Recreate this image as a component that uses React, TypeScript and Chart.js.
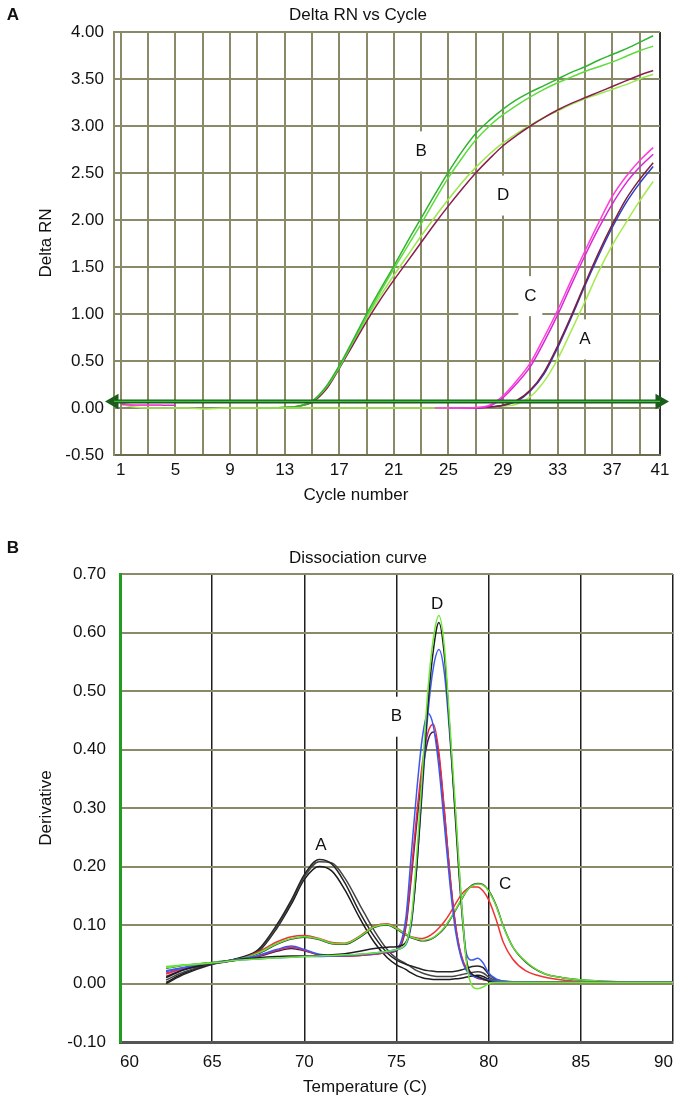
import React, { useEffect, useRef } from 'react';
import { Chart, registerables } from 'chart.js';

Chart.register(...registerables);

const FONT_FAMILY = "'Liberation Sans', Arial, Helvetica, sans-serif";
Chart.defaults.font.family = FONT_FAMILY;
Chart.defaults.color = '#111';

const N = null;
const FS = 17;

// ---------------- Panel A: amplification plot ----------------
const cycles = [1, 2, 3, 4, 5, 6, 7, 8, 9, 10, 11, 12, 13, 14, 15, 16, 17, 18, 19, 20,
  21, 22, 23, 24, 25, 26, 27, 28, 29, 30, 31, 32, 33, 34, 35, 36, 37, 38, 39, 40];
const cycleGridTicks = [1, 3, 5, 7, 9, 11, 13, 15, 17, 19, 21, 23, 25, 27, 29, 31, 33, 35, 37, 39, 40.5];
const cycleTickValues = [1, 5, 9, 13, 17, 21, 25, 29, 33, 37, 40.5];
const cycleTickLabels = ['1', '5', '9', '13', '17', '21', '25', '29', '33', '37', '41'];
const thresholdValue = 0.07;

const ampB1 = [N, N, N, N, N, N, N, N, N, N,
  0.00, 0.00, 0.005, 0.02, 0.07, 0.22, 0.45, 0.72, 1.00, 1.26,
  1.51, 1.77, 2.02, 2.27, 2.51, 2.73, 2.92, 3.06, 3.18, 3.28,
  3.36, 3.43, 3.50, 3.57, 3.63, 3.70, 3.76, 3.82, 3.89, 3.96];
const ampB2 = [N, N, N, N, N, N, N, N, N, N,
  0.00, 0.00, 0.005, 0.02, 0.07, 0.21, 0.43, 0.70, 0.97, 1.23,
  1.48, 1.72, 1.96, 2.21, 2.45, 2.66, 2.85, 3.00, 3.12, 3.22,
  3.31, 3.39, 3.46, 3.52, 3.58, 3.63, 3.68, 3.74, 3.80, 3.85];
const ampD1 = [N, N, N, N, N, N, N, N, N, N,
  0.00, 0.00, 0.005, 0.02, 0.06, 0.19, 0.42, 0.67, 0.92, 1.15,
  1.36, 1.56, 1.76, 1.96, 2.15, 2.33, 2.50, 2.65, 2.79, 2.90,
  3.00, 3.09, 3.17, 3.24, 3.30, 3.36, 3.42, 3.48, 3.54, 3.59];
const ampD2 = [N, N, N, N, N, N, N, N, N, N,
  0.00, 0.00, 0.005, 0.02, 0.07, 0.20, 0.43, 0.69, 0.95, 1.19,
  1.41, 1.62, 1.83, 2.03, 2.22, 2.40, 2.56, 2.70, 2.82, 2.92,
  3.01, 3.09, 3.16, 3.23, 3.29, 3.34, 3.39, 3.44, 3.50, 3.55];
const ampC1 = [0.05, 0.03, 0.03, 0.03, N, N, N, N, N, N,
  N, N, N, N, N, N, N, N, N, N,
  N, N, N, 0.00, 0.00, 0.00, 0.005, 0.03, 0.13, 0.29,
  0.48, 0.75, 1.04, 1.36, 1.67, 1.97, 2.25, 2.46, 2.63, 2.77];
const ampC2 = [0.04, 0.03, 0.03, 0.03, 0.03, N, N, N, N, N,
  N, N, N, N, N, N, N, N, N, N,
  N, N, N, N, 0.00, 0.00, 0.00, 0.02, 0.11, 0.26,
  0.44, 0.70, 0.99, 1.31, 1.62, 1.91, 2.17, 2.39, 2.56, 2.70];
const ampA1 = [N, N, N, N, N, N, N, N, N, N,
  N, N, N, N, N, N, N, N, N, N,
  N, N, N, N, N, 0.00, 0.00, 0.01, 0.03, 0.08,
  0.19, 0.38, 0.66, 0.98, 1.32, 1.65, 1.95, 2.22, 2.43, 2.61];
const ampA2 = [N, N, N, N, N, N, N, N, N, N,
  N, N, N, N, N, N, N, N, N, N,
  N, N, N, N, N, N, 0.00, 0.01, 0.03, 0.07,
  0.18, 0.36, 0.64, 0.96, 1.30, 1.62, 1.92, 2.18, 2.39, 2.57];
const ampA3 = [0.04, 0.01, 0.00, 0.00, 0.00, 0.00, -0.01, -0.005, 0.00, 0.00,
  0.00, 0.00, 0.00, 0.00, 0.00, 0.00, 0.00, 0.00, 0.00, 0.00,
  0.00, 0.00, 0.00, 0.00, 0.00, 0.00, 0.00, 0.01, 0.02, 0.04,
  0.12, 0.28, 0.52, 0.82, 1.13, 1.45, 1.73, 1.97, 2.20, 2.41];

const ampSeries = [
  { values: ampC1, color: '#ff3fd8' },
  { values: ampC2, color: '#d826d8' },
  { values: ampA1, color: '#7a2040' },
  { values: ampA2, color: '#2f3fc8' },
  { values: ampA3, color: '#a6ea4f' },
  { values: ampB1, color: '#2fb52f' },
  { values: ampB2, color: '#5ddc3c' },
  { values: ampD1, color: '#8a1f4f' },
  { values: ampD2, color: '#9be84a' },
];

const ampCurveLabels = [
  { text: 'B', x: 23, y: 2.73 },
  { text: 'D', x: 29, y: 2.26 },
  { text: 'C', x: 31, y: 1.19 },
  { text: 'A', x: 35, y: 0.73 },
];

// ---------------- Panel B: dissociation curve ----------------
const temps = [62.5, 63.5, 65, 66.5, 67.5, 68.5, 69.3, 70, 70.8, 71.5,
  72.2, 73, 73.8, 74.5, 75, 75.5, 75.8, 76.1, 76.4, 76.7,
  77, 77.3, 77.6, 77.9, 78.2, 78.5, 78.8, 79.1, 79.4, 79.7,
  80, 80.4, 80.8, 81.3, 82, 83, 84, 85.5, 87, 90];

const meltA1 = [0.000, 0.016, 0.033, 0.044, 0.058, 0.100, 0.143, 0.186, 0.212, 0.204,
  0.172, 0.122, 0.080, 0.052, 0.040, 0.033, 0.030, 0.027, 0.024, 0.022,
  0.021, 0.020, 0.020, 0.020, 0.021, 0.023, 0.026, 0.029, 0.030, 0.027,
  0.016, 0.007, 0.004, 0.003, 0.003, 0.002, 0.002, 0.002, 0.002, 0.002];
const meltA2 = [0.006, 0.020, 0.034, 0.043, 0.056, 0.096, 0.140, 0.182, 0.208, 0.206,
  0.180, 0.135, 0.090, 0.058, 0.043, 0.034, 0.028, 0.022, 0.018, 0.015,
  0.013, 0.012, 0.012, 0.012, 0.013, 0.015, 0.017, 0.019, 0.020, 0.018,
  0.011, 0.005, 0.003, 0.002, 0.002, 0.002, 0.002, 0.002, 0.002, 0.002];
const meltA3 = [0.002, 0.018, 0.034, 0.043, 0.054, 0.094, 0.136, 0.178, 0.200, 0.192,
  0.160, 0.112, 0.070, 0.044, 0.032, 0.024, 0.018, 0.013, 0.010, 0.008,
  0.007, 0.007, 0.007, 0.007, 0.008, 0.009, 0.011, 0.013, 0.014, 0.012,
  0.007, 0.004, 0.002, 0.002, 0.002, 0.002, 0.002, 0.002, 0.002, 0.002];
const meltB1 = [0.022, 0.028, 0.035, 0.042, 0.048, 0.058, 0.064, 0.058, 0.050, 0.048,
  0.048, 0.049, 0.051, 0.054, 0.058, 0.110, 0.220, 0.330, 0.420, 0.462,
  0.440, 0.370, 0.270, 0.170, 0.090, 0.045, 0.022, 0.014, 0.010, 0.008,
  0.006, 0.005, 0.004, 0.003, 0.003, 0.002, 0.002, 0.002, 0.002, 0.002];
const meltB2 = [0.018, 0.026, 0.034, 0.041, 0.047, 0.057, 0.062, 0.057, 0.049, 0.047,
  0.047, 0.048, 0.050, 0.053, 0.057, 0.100, 0.190, 0.290, 0.375, 0.428,
  0.443, 0.395, 0.295, 0.185, 0.100, 0.050, 0.025, 0.015, 0.010, 0.007,
  0.005, 0.004, 0.003, 0.003, 0.002, 0.002, 0.002, 0.002, 0.002, 0.002];
const meltB3 = [0.012, 0.024, 0.033, 0.041, 0.046, 0.055, 0.060, 0.056, 0.049, 0.047,
  0.047, 0.048, 0.050, 0.053, 0.056, 0.095, 0.180, 0.275, 0.360, 0.415,
  0.430, 0.388, 0.292, 0.185, 0.100, 0.048, 0.024, 0.014, 0.009, 0.007,
  0.005, 0.004, 0.003, 0.003, 0.002, 0.002, 0.002, 0.002, 0.002, 0.002];
const meltC1 = [0.029, 0.032, 0.036, 0.042, 0.052, 0.068, 0.077, 0.080, 0.076, 0.069,
  0.068, 0.080, 0.097, 0.101, 0.094, 0.084, 0.079, 0.076, 0.074, 0.075,
  0.079, 0.086, 0.096, 0.110, 0.126, 0.143, 0.158, 0.167, 0.170, 0.168,
  0.158, 0.133, 0.097, 0.063, 0.038, 0.017, 0.010, 0.005, 0.003, 0.002];
const meltC2 = [0.026, 0.031, 0.036, 0.042, 0.051, 0.067, 0.076, 0.079, 0.075, 0.068,
  0.067, 0.079, 0.096, 0.100, 0.093, 0.083, 0.078, 0.075, 0.073, 0.074,
  0.078, 0.085, 0.095, 0.109, 0.125, 0.142, 0.158, 0.168, 0.171, 0.169,
  0.159, 0.134, 0.098, 0.063, 0.037, 0.017, 0.010, 0.005, 0.003, 0.002];
const meltC3 = [0.016, 0.026, 0.034, 0.042, 0.054, 0.071, 0.080, 0.082, 0.077, 0.070,
  0.069, 0.081, 0.098, 0.102, 0.095, 0.085, 0.080, 0.078, 0.077, 0.080,
  0.086, 0.095, 0.106, 0.120, 0.136, 0.151, 0.161, 0.165, 0.165, 0.158,
  0.143, 0.110, 0.070, 0.042, 0.022, 0.011, 0.006, 0.003, 0.002, 0.002];
const meltD1 = [0.027, 0.031, 0.035, 0.040, 0.042, 0.044, 0.045, 0.046, 0.047, 0.048,
  0.049, 0.050, 0.052, 0.055, 0.058, 0.068, 0.110, 0.220, 0.360, 0.500,
  0.590, 0.629, 0.575, 0.440, 0.300, 0.150, 0.035, -0.004, -0.009, -0.006,
  0.000, 0.002, 0.002, 0.002, 0.002, 0.002, 0.002, 0.002, 0.002, 0.002];
const meltD2 = [0.010, 0.024, 0.034, 0.041, 0.044, 0.046, 0.047, 0.047, 0.048, 0.049,
  0.051, 0.055, 0.060, 0.062, 0.063, 0.070, 0.105, 0.200, 0.340, 0.475,
  0.570, 0.617, 0.560, 0.430, 0.280, 0.140, 0.040, 0.016, 0.012, 0.008,
  0.004, 0.003, 0.002, 0.002, 0.002, 0.002, 0.002, 0.002, 0.002, 0.002];
const meltD3 = [0.020, 0.027, 0.034, 0.040, 0.042, 0.044, 0.045, 0.046, 0.046, 0.047,
  0.048, 0.050, 0.052, 0.055, 0.058, 0.066, 0.100, 0.200, 0.330, 0.460,
  0.540, 0.571, 0.530, 0.420, 0.290, 0.150, 0.050, 0.040, 0.043, 0.035,
  0.018, 0.008, 0.004, 0.003, 0.002, 0.002, 0.002, 0.002, 0.002, 0.002];

const meltSeries = [
  { values: meltD1, color: '#6ee63a' },
  { values: meltD2, color: '#1e1e1e' },
  { values: meltD3, color: '#3d5cf0' },
  { values: meltB1, color: '#3a58ee' },
  { values: meltB2, color: '#ee2a40' },
  { values: meltB3, color: '#4a1f5a' },
  { values: meltC1, color: '#62e034' },
  { values: meltC2, color: '#2a2a2a' },
  { values: meltC3, color: '#f03434' },
  { values: meltA1, color: '#262626' },
  { values: meltA2, color: '#454545' },
  { values: meltA3, color: '#1a1a1a' },
];

const meltCurveLabels = [
  { text: 'D', x: 77.2, y: 0.648, boxed: false },
  { text: 'B', x: 75, y: 0.456, boxed: true },
  { text: 'A', x: 70.9, y: 0.237, boxed: false },
  { text: 'C', x: 80.9, y: 0.169, boxed: false },
];

// ---------------- helpers ----------------
const GRID_OLIVE = '#8a8a68';
const fmt2 = (v: number) => (Math.abs(v) < 1e-9 ? '0.00' : Number(v).toFixed(2));

type TextItem = { text: string; x: number; y: number; bold?: boolean; rotate?: boolean };

function decorPlugin(texts: TextItem[], labels: any[], boxAll: boolean) {
  return {
    id: 'decor',
    beforeDatasetsDraw(chart: any) {
      const ctx = chart.ctx;
      const xs = chart.scales.x;
      const ys = chart.scales.y;
      ctx.save();
      ctx.font = `${FS}px ${FONT_FAMILY}`;
      ctx.textAlign = 'center';
      ctx.textBaseline = 'middle';
      labels.forEach((l) => {
        const px = xs.getPixelForValue(l.x);
        const py = ys.getPixelForValue(l.y);
        if (boxAll || l.boxed) {
          ctx.fillStyle = '#ffffff';
          ctx.fillRect(px - 12, py - 20, 24, 40);
        }
        ctx.fillStyle = '#111';
        ctx.fillText(l.text, px, py);
      });
      ctx.restore();
    },
    afterDraw(chart: any) {
      const ctx = chart.ctx;
      ctx.save();
      ctx.fillStyle = '#111';
      ctx.textAlign = 'center';
      ctx.textBaseline = 'middle';
      texts.forEach((t) => {
        ctx.font = `${t.bold ? 'bold ' : ''}${FS}px ${FONT_FAMILY}`;
        if (t.rotate) {
          ctx.save();
          ctx.translate(t.x, t.y);
          ctx.rotate(-Math.PI / 2);
          ctx.fillText(t.text, 0, 0);
          ctx.restore();
        } else {
          ctx.fillText(t.text, t.x, t.y);
        }
      });
      ctx.restore();
    },
  };
}

function configA(): any {
  const datasets: any[] = [
    {
      data: [{ x: 0.5, y: thresholdValue }, { x: 40.5, y: thresholdValue }],
      borderColor: '#3cc03c', borderWidth: 1.2, pointRadius: 0, tension: 0, clip: false,
    },
    {
      data: [{ x: 0.5, y: thresholdValue }, { x: 40.5, y: thresholdValue }],
      borderColor: '#1b5e1b', borderWidth: 4, tension: 0, clip: false,
      pointRadius: 5, pointStyle: 'triangle', pointRotation: [270, 90],
      pointBackgroundColor: '#1b5e1b', pointBorderColor: '#1b5e1b',
    },
    ...ampSeries.map((s) => ({
      data: cycles.map((c, i) => ({ x: c, y: s.values[i] })),
      borderColor: s.color, borderWidth: 1.5, pointRadius: 0,
      cubicInterpolationMode: 'monotone', spanGaps: false,
    })),
  ];
  return {
    type: 'line',
    data: { datasets },
    options: {
      responsive: false, animation: false,
      layout: { padding: { left: 0, right: 24, top: 32, bottom: 0 } },
      plugins: { legend: { display: false }, title: { display: false }, tooltip: { enabled: false } },
      scales: {
        x: {
          type: 'linear', min: 0.5, max: 40.5,
          afterBuildTicks: (s: any) => { s.ticks = cycleGridTicks.map((v) => ({ value: v })); },
          afterFit: (s: any) => { s.height = 65; },
          ticks: {
            autoSkip: false, maxRotation: 0, padding: 5, color: '#111', font: { size: FS },
            callback: (v: any) => {
              const i = cycleTickValues.indexOf(Number(v));
              return i >= 0 ? cycleTickLabels[i] : '';
            },
          },
          grid: {
            drawTicks: false, lineWidth: 2,
            color: (c: any) => (c.tick && c.tick.value === 40.5 ? '#333' : GRID_OLIVE),
          },
          border: { display: true, color: '#6b6b50', width: 2 },
        },
        y: {
          type: 'linear', min: -0.5, max: 4,
          afterFit: (s: any) => { s.width = 114; },
          ticks: { stepSize: 0.5, padding: 10, color: '#111', font: { size: FS }, callback: (v: any) => fmt2(v) },
          grid: { drawTicks: false, lineWidth: 2, color: GRID_OLIVE },
          border: { display: true, color: GRID_OLIVE, width: 2 },
        },
      },
    },
    plugins: [decorPlugin([
      { text: 'A', x: 13, y: 15, bold: true },
      { text: 'Delta RN vs Cycle', x: 358, y: 15 },
      { text: 'Cycle number', x: 356, y: 495 },
      { text: 'Delta RN', x: 46, y: 243, rotate: true },
    ], ampCurveLabels, true)],
  };
}

function configB(): any {
  const datasets = meltSeries.map((s) => ({
    data: temps.map((t, i) => ({ x: t, y: s.values[i] })),
    borderColor: s.color, borderWidth: 1.5, pointRadius: 0,
    cubicInterpolationMode: 'monotone',
  }));
  return {
    type: 'line',
    data: { datasets },
    options: {
      responsive: false, animation: false,
      layout: { padding: { left: 0, right: 11, top: 54, bottom: 0 } },
      plugins: { legend: { display: false }, title: { display: false }, tooltip: { enabled: false } },
      scales: {
        x: {
          type: 'linear', min: 60, max: 90,
          afterFit: (s: any) => { s.height = 61; },
          ticks: { stepSize: 5, autoSkip: false, maxRotation: 0, padding: 10, align: 'inner', color: '#111', font: { size: FS } },
          grid: {
            drawTicks: false, lineWidth: 1.5,
            color: (c: any) => (c.tick && c.tick.value === 60 ? 'rgba(0,0,0,0)' : '#1e1e1e'),
          },
          border: { display: true, color: '#555', width: 3 },
        },
        y: {
          type: 'linear', min: -0.1, max: 0.7,
          afterFit: (s: any) => { s.width = 120; },
          ticks: { stepSize: 0.1, padding: 14, color: '#111', font: { size: FS }, callback: (v: any) => fmt2(v) },
          grid: {
            drawTicks: false, lineWidth: 2,
            color: (c: any) => (c.tick && Math.abs(c.tick.value + 0.1) < 1e-6 ? 'rgba(0,0,0,0)' : GRID_OLIVE),
          },
          border: { display: true, color: '#1f9e1f', width: 3 },
        },
      },
    },
    plugins: [decorPlugin([
      { text: 'B', x: 13, y: 28, bold: true },
      { text: 'Dissociation curve', x: 358, y: 38 },
      { text: 'Temperature (C)', x: 365, y: 567 },
      { text: 'Derivative', x: 46, y: 288, rotate: true },
    ], meltCurveLabels, false)],
  };
}

export default function App() {
  const refA = useRef<HTMLCanvasElement>(null);
  const refB = useRef<HTMLCanvasElement>(null);
  useEffect(() => {
    const a = new Chart(refA.current as HTMLCanvasElement, configA());
    const b = new Chart(refB.current as HTMLCanvasElement, configB());
    return () => { a.destroy(); b.destroy(); };
  }, []);
  return (
    <div style={{ position: 'absolute', left: 0, top: 0, width: 684, height: 1103, background: '#fff' }}>
      <canvas ref={refA} width={684} height={520}
        style={{ position: 'absolute', left: 0, top: 0, width: 684, height: 520, display: 'block' }} />
      <canvas ref={refB} width={684} height={583}
        style={{ position: 'absolute', left: 0, top: 520, width: 684, height: 583, display: 'block' }} />
    </div>
  );
}
